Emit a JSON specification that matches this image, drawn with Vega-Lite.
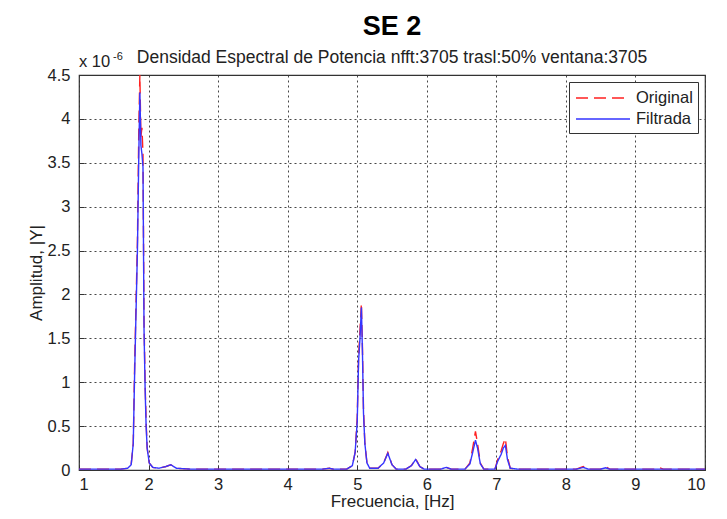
{
  "$schema": "https://vega.github.io/schema/vega-lite/v6.json",
  "width": 626,
  "height": 395,
  "autosize": {"type": "none"},
  "padding": {"left": 79, "top": 75, "right": 22, "bottom": 49},
  "background": "white",
  "config": {
    "font": "Liberation Sans",
    "view": {"stroke": "#333333", "strokeWidth": 1.2},
    "axis": {"labelFont": "Liberation Sans", "titleFont": "Liberation Sans", "labelFontSize": 16.5, "labelColor": "#222", "titleColor": "#222", "titleFontWeight": "normal", "titleFontSize": 17}
  },
  "title": {
    "text": "SE 2\u00a0\u00a0\u00a0\u00a0",
    "subtitle": "Densidad Espectral de Potencia nfft:3705 trasl:50% ventana:3705",
    "fontSize": 27,
    "fontWeight": "bold",
    "font": "Liberation Sans",
    "color": "#000",
    "subtitleFontSize": 17.5,
    "subtitleFont": "Liberation Sans",
    "subtitleColor": "#222",
    "subtitlePadding": 8,
    "anchor": "middle",
    "offset": -16
  },
  "data": {
    "values": [
      {"f": 1.0, "Original": 0.01, "Filtrada": 0.01},
      {"f": 1.3, "Original": 0.01, "Filtrada": 0.01},
      {"f": 1.6, "Original": 0.01, "Filtrada": 0.01},
      {"f": 1.7, "Original": 0.02, "Filtrada": 0.02},
      {"f": 1.75, "Original": 0.06, "Filtrada": 0.06},
      {"f": 1.78, "Original": 0.3, "Filtrada": 0.3},
      {"f": 1.80, "Original": 1.2, "Filtrada": 1.1},
      {"f": 1.82, "Original": 1.9, "Filtrada": 1.8},
      {"f": 1.84, "Original": 2.6, "Filtrada": 2.5},
      {"f": 1.86, "Original": 3.9, "Filtrada": 3.6},
      {"f": 1.875, "Original": 4.5, "Filtrada": 4.3},
      {"f": 1.89, "Original": 3.8, "Filtrada": 3.7},
      {"f": 1.905, "Original": 3.9, "Filtrada": 3.6},
      {"f": 1.92, "Original": 3.6, "Filtrada": 3.45},
      {"f": 1.935, "Original": 1.7, "Filtrada": 1.6},
      {"f": 1.95, "Original": 1.0, "Filtrada": 0.95},
      {"f": 1.965, "Original": 0.55, "Filtrada": 0.5},
      {"f": 1.98, "Original": 0.25, "Filtrada": 0.25},
      {"f": 2.01, "Original": 0.08, "Filtrada": 0.08},
      {"f": 2.06, "Original": 0.03, "Filtrada": 0.03},
      {"f": 2.15, "Original": 0.02, "Filtrada": 0.02},
      {"f": 2.25, "Original": 0.04, "Filtrada": 0.04},
      {"f": 2.32, "Original": 0.06, "Filtrada": 0.06},
      {"f": 2.4, "Original": 0.02, "Filtrada": 0.02},
      {"f": 2.6, "Original": 0.01, "Filtrada": 0.01},
      {"f": 3.0, "Original": 0.01, "Filtrada": 0.01},
      {"f": 3.5, "Original": 0.01, "Filtrada": 0.01},
      {"f": 4.0, "Original": 0.01, "Filtrada": 0.01},
      {"f": 4.5, "Original": 0.01, "Filtrada": 0.01},
      {"f": 4.6, "Original": 0.02, "Filtrada": 0.02},
      {"f": 4.65, "Original": 0.01, "Filtrada": 0.01},
      {"f": 4.85, "Original": 0.01, "Filtrada": 0.01},
      {"f": 4.93, "Original": 0.05, "Filtrada": 0.05},
      {"f": 4.97, "Original": 0.2, "Filtrada": 0.2},
      {"f": 5.0, "Original": 0.6, "Filtrada": 0.55},
      {"f": 5.02, "Original": 1.3, "Filtrada": 1.25},
      {"f": 5.04, "Original": 1.6, "Filtrada": 1.5},
      {"f": 5.06, "Original": 1.9, "Filtrada": 1.85},
      {"f": 5.075, "Original": 1.4, "Filtrada": 1.35},
      {"f": 5.09, "Original": 0.7, "Filtrada": 0.65},
      {"f": 5.11, "Original": 0.3, "Filtrada": 0.3},
      {"f": 5.14, "Original": 0.08, "Filtrada": 0.08},
      {"f": 5.18, "Original": 0.02, "Filtrada": 0.02},
      {"f": 5.3, "Original": 0.02, "Filtrada": 0.02},
      {"f": 5.38, "Original": 0.08, "Filtrada": 0.08},
      {"f": 5.44, "Original": 0.2, "Filtrada": 0.19},
      {"f": 5.5, "Original": 0.06, "Filtrada": 0.06},
      {"f": 5.56, "Original": 0.01, "Filtrada": 0.01},
      {"f": 5.7, "Original": 0.01, "Filtrada": 0.01},
      {"f": 5.78, "Original": 0.05, "Filtrada": 0.05},
      {"f": 5.84, "Original": 0.13, "Filtrada": 0.12},
      {"f": 5.9, "Original": 0.04, "Filtrada": 0.04},
      {"f": 5.96, "Original": 0.01, "Filtrada": 0.01},
      {"f": 6.2, "Original": 0.01, "Filtrada": 0.01},
      {"f": 6.28, "Original": 0.03, "Filtrada": 0.03},
      {"f": 6.35, "Original": 0.01, "Filtrada": 0.01},
      {"f": 6.55, "Original": 0.01, "Filtrada": 0.01},
      {"f": 6.62, "Original": 0.08, "Filtrada": 0.07},
      {"f": 6.66, "Original": 0.25, "Filtrada": 0.2},
      {"f": 6.7, "Original": 0.44, "Filtrada": 0.34},
      {"f": 6.73, "Original": 0.3, "Filtrada": 0.25},
      {"f": 6.77, "Original": 0.08, "Filtrada": 0.07},
      {"f": 6.82, "Original": 0.01, "Filtrada": 0.01},
      {"f": 6.98, "Original": 0.01, "Filtrada": 0.01},
      {"f": 7.02, "Original": 0.12, "Filtrada": 0.1},
      {"f": 7.07, "Original": 0.22, "Filtrada": 0.18},
      {"f": 7.1, "Original": 0.3, "Filtrada": 0.25},
      {"f": 7.13, "Original": 0.36, "Filtrada": 0.28},
      {"f": 7.16, "Original": 0.15, "Filtrada": 0.12},
      {"f": 7.2, "Original": 0.02, "Filtrada": 0.02},
      {"f": 7.3, "Original": 0.01, "Filtrada": 0.01},
      {"f": 8.15, "Original": 0.01, "Filtrada": 0.01},
      {"f": 8.25, "Original": 0.04, "Filtrada": 0.03},
      {"f": 8.32, "Original": 0.01, "Filtrada": 0.01},
      {"f": 8.5, "Original": 0.01, "Filtrada": 0.01},
      {"f": 8.57, "Original": 0.04, "Filtrada": 0.025},
      {"f": 8.63, "Original": 0.01, "Filtrada": 0.01},
      {"f": 9.3, "Original": 0.01, "Filtrada": 0.01},
      {"f": 9.35, "Original": 0.025, "Filtrada": 0.01},
      {"f": 9.4, "Original": 0.01, "Filtrada": 0.01},
      {"f": 10.0, "Original": 0.01, "Filtrada": 0.01}
    ]
  },
  "layer": [
    {
      "transform": [{"fold": ["Original", "Filtrada"], "as": ["serie", "amp"]}],
      "mark": {"type": "line", "strokeWidth": 1.4, "clip": true},
      "encoding": {
        "x": {
          "field": "f", "type": "quantitative",
          "scale": {"domain": [1, 10], "nice": false, "zero": false},
          "axis": {"values": [1,2,3,4,5,6,7,8,9,10], "format": "~g", "title": "Frecuencia, [Hz]", "titlePadding": 1, "grid": true, "gridDash": [2, 3], "gridColor": "#333", "gridOpacity": 0.9, "domain": false, "tickSize": -5, "tickColor": "#333", "labelPadding": 11}
        },
        "y": {
          "field": "amp", "type": "quantitative",
          "scale": {"domain": [0, 4.5], "nice": false},
          "axis": {"values": [0,0.5,1,1.5,2,2.5,3,3.5,4,4.5], "format": "~g", "title": "Amplitud, |Y|", "titlePadding": 2, "grid": true, "gridDash": [2, 3], "gridColor": "#333", "gridOpacity": 0.9, "domain": false, "tickSize": -5, "tickColor": "#333", "labelPadding": 14}
        },
        "color": {
          "field": "serie", "type": "nominal",
          "scale": {"domain": ["Original", "Filtrada"], "range": ["#ff2020", "#3535ff"]},
          "legend": {"title": null, "orient": "top-right", "offset": 7, "fillColor": "white", "strokeColor": "#333", "padding": 5, "labelFontSize": 16.5, "labelColor": "#222", "labelFont": "Liberation Sans", "symbolType": "M-1,0H4.4", "symbolSize": 400, "symbolStrokeWidth": 1.4, "symbolOffset": 1, "rowPadding": 1, "labelOffset": 39}
        },
        "strokeDash": {
          "field": "serie", "type": "nominal",
          "scale": {"domain": ["Original", "Filtrada"], "range": [[12, 6], [1, 0]]},
          "legend": null
        },
        "order": {"field": "serie", "sort": "descending"}
      }
    },
    {
      "data": {"values": [{"etiqueta": "x 10"}]},
      "mark": {"type": "text", "align": "left", "baseline": "bottom", "dy": -5, "fontSize": 16.5, "font": "Liberation Sans", "color": "#222"},
      "encoding": {
        "x": {"datum": 1},
        "y": {"datum": 4.5},
        "text": {"field": "etiqueta"}
      }
    },
    {
      "data": {"values": [{"etiqueta": "-6"}]},
      "mark": {"type": "text", "align": "left", "baseline": "bottom", "dx": 34, "dy": -13, "fontSize": 11, "font": "Liberation Sans", "color": "#222"},
      "encoding": {
        "x": {"datum": 1},
        "y": {"datum": 4.5},
        "text": {"field": "etiqueta"}
      }
    }
  ]
}
